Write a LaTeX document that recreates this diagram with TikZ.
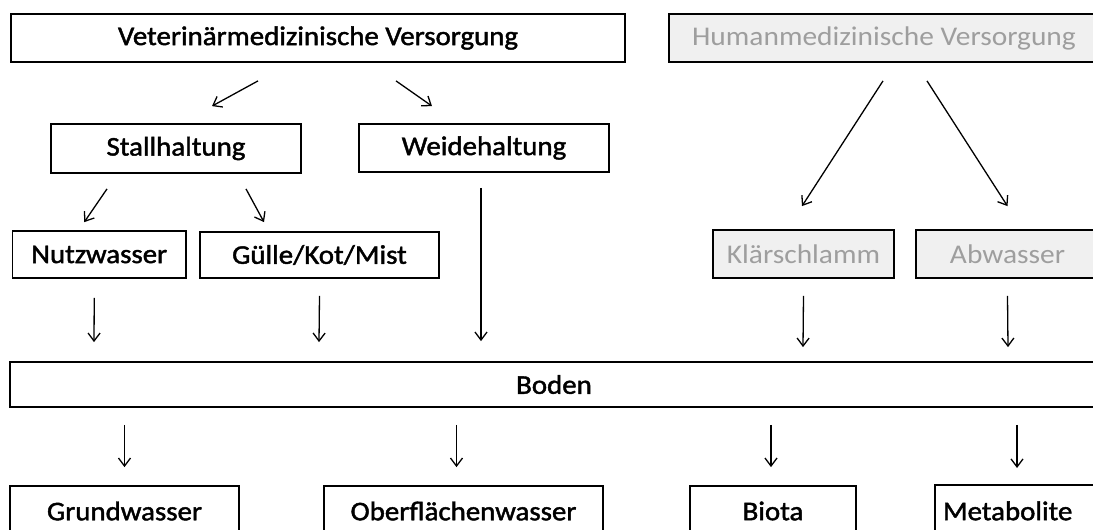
\documentclass[tikz,border=0pt]{standalone}
\usepackage{fontspec}
\setmainfont{Carlito}[FakeStretch=1.09]
\newfontfamily\blkfont{Carlito}[FakeStretch=1.07,FakeBold=1.6]
\usetikzlibrary{arrows.meta,calc}
\tikzset{
  box/.style={draw, line width=1.8pt, inner sep=0pt, font=\blkfont\fontsize{27}{32}\selectfont},
  gbox/.style={draw, line width=1.8pt, inner sep=0pt, font=\fontsize{27}{32}\selectfont, fill=black!6, text=black!38},
  arr/.style={line width=1.3pt, -{Straight Barb[length=8pt,width=12pt]}}
}
\begin{document}
\begin{tikzpicture}[x=1pt,y=-1pt]
\clip (0,0) rectangle (1093,530);
\fill[white] (0,0) rectangle (1093,530);
% row 1
\node[box, minimum width=614, minimum height=48] (vet) at (318,38) {Veterinärmedizinische Versorgung};
\node[gbox, minimum width=430, minimum height=48] (human) at (884,38) {Humanmedizinische Versorgung};
% row 2
\node[box, minimum width=250, minimum height=49] (stall) at (176,148.5) {Stallhaltung};
\node[box, minimum width=250, minimum height=48] (weide) at (484,148) {Weidehaltung};
% row 3
\node[box, minimum width=173.5, minimum height=47] (nutz) at (99.25,254.5) {Nutzwasser};
\node[box, minimum width=239, minimum height=46] (guelle) at (319.5,255) {Gülle/Kot/Mist};
\node[gbox, minimum width=181, minimum height=48] (klaer) at (803.5,254) {Klärschlamm};
\node[gbox, minimum width=183, minimum height=48] (abw) at (1007.5,254) {Abwasser};
% row 4
\node[box, minimum width=1088, minimum height=45] (boden) at (554,384.5) {Boden};
% row 5
\node[box, minimum width=229, minimum height=50] (grund) at (124.5,511) {Grundwasser};
\node[box, minimum width=279, minimum height=50] (oberfl) at (463.5,511) {Oberflächenwasser};
\node[box, minimum width=166, minimum height=50] (biota) at (773,511) {Biota};
\node[box, anchor=north west, text width=150pt, inner xsep=8pt, align=left, minimum height=52] (metab) at (934,484) {Metabolite};
% arrows
\draw[arr] ($(vet.south)+(-60,18)$) -- ($(stall.north)+(36,-17)$);
\draw[arr] ($(vet.south)+(78,18)$) -- ($(weide.north)+(-52,-17)$);
\draw[arr] ($(stall.south)+(-69,15)$) -- ($(nutz.north)+(-15,-8)$);
\draw[arr] ($(stall.south)+(70,15)$) -- ($(guelle.north)+(-55.5,-9)$);
\draw[arr] ($(weide.south)+(-3,15)$) -- ($(boden.north)+(-73,-20)$);
\draw[arr] ($(nutz.south)+(-5,19)$) -- ($(boden.north)+(-460,-19)$);
\draw[arr] ($(guelle.south)+(0,17)$) -- ($(boden.north)+(-235,-19)$);
\draw[arr] ($(human.south)+(-1,18)$) -- ($(klaer.north)+(-1.5,-23)$);
\draw[arr] ($(human.south)+(43,18)$) -- ($(abw.north)+(0,-23)$);
\draw[arr] ($(klaer.south)+(0,17)$) -- ($(boden.north)+(249,-14)$);
\draw[arr] ($(abw.south)+(0,17)$) -- ($(boden.north)+(454,-14)$);
\draw[arr] ($(boden.south -| grund.north)+(0,17)$) -- ($(grund.north)+(0,-18)$);
\draw[arr] ($(boden.south -| oberfl.north)+(-7,17)$) -- ($(oberfl.north)+(-7,-18)$);
\draw[arr] ($(boden.south -| biota.north)+(-2,17)$) -- ($(biota.north)+(-2,-18)$);
\draw[arr] ($(boden.south)+(463,17)$) -- ($(metab.north west)+(83,-16)$);
\end{tikzpicture}
\end{document}
